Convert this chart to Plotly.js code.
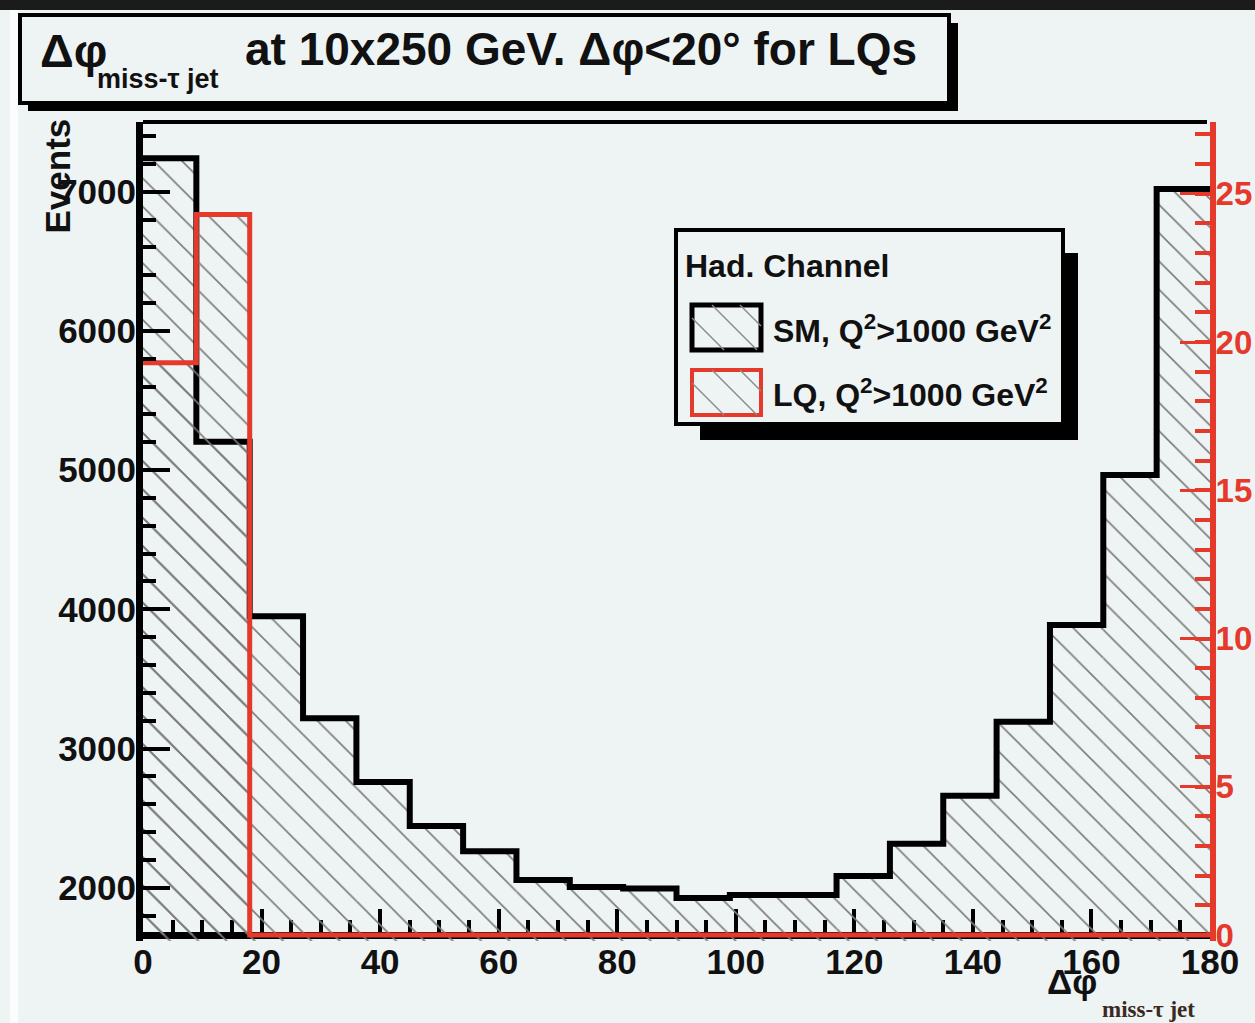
<!DOCTYPE html>
<html>
<head>
<meta charset="utf-8">
<script src="https://cdn.plot.ly/plotly-3.0.1.min.js"></script>
<style>
html,body{margin:0;padding:0;background:#eef3f4;}
#chart{width:1255px;height:1023px;}
</style>
</head>
<body>
<div id="chart"></div>
<script>
// ---------------- data ----------------
const binEdges   = [0, 9, 18, 27, 36, 45, 54, 63, 72, 81, 90, 99, 108, 117, 126, 135, 144, 153, 162, 171, 180];
const binCenters = [4.5, 13.5, 22.5, 31.5, 40.5, 49.5, 58.5, 67.5, 76.5, 85.5, 94.5, 103.5, 112.5, 121.5, 130.5, 139.5, 148.5, 157.5, 166.5, 175.5];
const smValues   = [7240, 5204, 3950, 3217, 2759, 2443, 2261, 2055, 2005, 1995, 1926, 1948, 1948, 2084, 2315, 2660, 3193, 3887, 4965, 7019];
const lqValues   = [19.3, 24.3, 0, 0, 0, 0, 0, 0, 0, 0, 0, 0, 0, 0, 0, 0, 0, 0, 0, 0];
const xTickVals  = [0, 20, 40, 60, 80, 100, 120, 140, 160, 180];
const yTickVals  = [2000, 3000, 4000, 5000, 6000, 7000];
const y2TickVals = [0, 5, 10, 15, 20, 25];
const smName = 'SM, Q<sup>2</sup>&gt;1000 GeV<sup>2</sup>';
const lqName = 'LQ, Q<sup>2</sup>&gt;1000 GeV<sup>2</sup>';
const legendTitle = 'Had. Channel';
const titleSymbol = 'Δφ';
const titleSub = 'miss-τ jet';
const titleMain = 'at 10x250 GeV. Δφ&lt;20° for LQs';
const yTitle = 'Events';
const xTitle = 'Δφ';
const xTitleSub = 'miss-τ jet';

// ---------------- styling / geometry ----------------
const BG = '#eef3f4';
const RED = '#e5392c';
const FONT = '"Liberation Sans", Arial, Helvetica, sans-serif';
const PL = 143, PR = 1210, PT = 122, PB = 941;
const px = v => (v - PL) / (PR - PL);
const py = v => (PB - v) / (PB - PT);

const hatch = {shape: '\\', fgcolor: '#7c7c7c', bgcolor: 'rgba(0,0,0,0)', size: 20, solidity: 0.08, fillmode: 'replace'};

const traces = [
  {type: 'bar', x: binCenters, y: smValues, width: 9, yaxis: 'y',
   marker: {color: 'rgba(0,0,0,0)', line: {width: 0}, pattern: hatch}, hoverinfo: 'skip', showlegend: false},
  {type: 'bar', x: binCenters, y: lqValues, width: 9, yaxis: 'y2',
   marker: {color: 'rgba(0,0,0,0)', line: {width: 0}, pattern: hatch}, hoverinfo: 'skip', showlegend: false},
  {type: 'scatter', mode: 'lines', x: binEdges, y: smValues.concat([smValues[smValues.length - 1]]), yaxis: 'y',
   line: {shape: 'hv', color: '#000', width: 6}, hoverinfo: 'skip', showlegend: false},
  {type: 'scatter', mode: 'lines', x: binEdges, y: lqValues.concat([lqValues[lqValues.length - 1]]), yaxis: 'y2',
   line: {shape: 'hv', color: RED, width: 5}, hoverinfo: 'skip', showlegend: false}
];

function rect(x0, y0, x1, y1, fill, lineColor, lineWidth) {
  return {type: 'rect', xref: 'paper', yref: 'paper', x0: px(x0), x1: px(x1), y0: py(y0), y1: py(y1),
          fillcolor: fill, line: {color: lineColor || 'rgba(0,0,0,0)', width: lineWidth || 0}, layer: 'above'};
}
function seg(x0, y0, x1, y1, color, width) {
  return {type: 'line', xref: 'paper', yref: 'paper', x0: px(x0), x1: px(x1), y0: py(y0), y1: py(y1),
          line: {color: color, width: width}, layer: 'above'};
}
function hatchBox(x0, y0) {
  return [
    seg(x0, y0 + 13, x0 + 32, y0 + 45, '#8a8a8a', 1.5),
    seg(x0 + 20, y0, x0 + 65, y0 + 45, '#8a8a8a', 1.5),
    seg(x0 + 48, y0, x0 + 69, y0 + 21, '#8a8a8a', 1.5)
  ];
}

const shapes = [
  rect(0, 0, 1255, 10, '#1b1b1b'),
  rect(10, 10, 18, 1023, '#fbfdfd'),
  // title box
  rect(28, 23, 958, 111, '#000'),
  rect(20, 15, 949, 103, BG, '#000', 4),
  // top frame
  seg(PL, PT, PR - 3, PT, '#000', 4),
  // legend box
  rect(700, 253, 1078, 440, '#000'),
  rect(676, 230, 1063, 424, BG, '#000', 4),
  rect(692, 305, 761, 350, 'rgba(0,0,0,0)', '#000', 5),
  rect(692, 370, 761, 415, 'rgba(0,0,0,0)', RED, 4)
].concat(hatchBox(692, 305), hatchBox(692, 370));

function ann(text, x, y, size, opts) {
  return Object.assign({text: text, xref: 'paper', yref: 'paper', x: px(x), y: py(y), showarrow: false,
    xanchor: 'left', yanchor: 'middle', font: {family: FONT, size: size, color: '#111', weight: 'bold'}}, opts || {});
}

const annotations = [
  ann(titleSymbol, 38, 50, 47),
  ann(titleSub, 95, 79, 27),
  ann(titleMain, 243, 49, 46),
  ann(yTitle, 57, 117, 35, {xanchor: 'center', yanchor: 'top', textangle: -90}),
  ann(legendTitle, 683, 266, 32),
  ann(smName, 771, 329, 32),
  ann(lqName, 771, 393, 32),
  ann(xTitle, 1072, 981, 35, {xanchor: 'center'}),
  ann(xTitleSub, 1148, 1010, 23, {xanchor: 'center', font: {family: '"Liberation Serif", "Times New Roman", serif', size: 23, color: '#3b2a1e', weight: 'bold'}})
];

const tickFont = {family: FONT, size: 35, color: '#111', weight: 'bold'};

const layout = {
  width: 1255, height: 1023,
  margin: {l: PL, r: 1255 - PR, t: PT, b: 1023 - PB, pad: 0},
  paper_bgcolor: BG, plot_bgcolor: BG,
  barmode: 'overlay', showlegend: false,
  xaxis: {
    range: [0, 180], anchor: 'free', position: (PB - 935) / (PB - PT),
    tickvals: xTickVals, ticks: 'inside', ticklen: 23, tickwidth: 4, tickcolor: '#000',
    minor: {dtick: 5, tick0: 0, ticks: 'inside', ticklen: 12, tickwidth: 4, tickcolor: '#000', showgrid: false},
    showline: true, linecolor: '#000', linewidth: 7, layer: 'below traces',
    showgrid: false, zeroline: false, tickfont: tickFont, ticklabelstandoff: -7
  },
  yaxis: {
    range: [1617, 7501], tickvals: yTickVals, ticks: 'inside', ticklen: 27, tickwidth: 4, tickcolor: '#000',
    minor: {dtick: 200, tick0: 0, ticks: 'inside', ticklen: 13, tickwidth: 4, tickcolor: '#000', showgrid: false},
    showline: true, linecolor: '#000', linewidth: 7,
    showgrid: false, zeroline: false, tickfont: tickFont, ticklabelstandoff: -7
  },
  yaxis2: {
    overlaying: 'y', side: 'right', anchor: 'x',
    range: [-0.202, 27.42], tickvals: y2TickVals, ticks: 'inside', ticklen: 30, tickwidth: 3, tickcolor: RED,
    minor: {dtick: 1, tick0: 0, ticks: 'inside', ticklen: 15, tickwidth: 4, tickcolor: RED, showgrid: false},
    showline: true, linecolor: RED, linewidth: 6,
    showgrid: false, zeroline: false, tickfont: {family: FONT, size: 33, color: RED, weight: 'bold'}, ticklabelstandoff: -7
  },
  shapes: shapes,
  annotations: annotations
};

Plotly.newPlot('chart', traces, layout, {displayModeBar: false, staticPlot: true});
</script>
</body>
</html>
